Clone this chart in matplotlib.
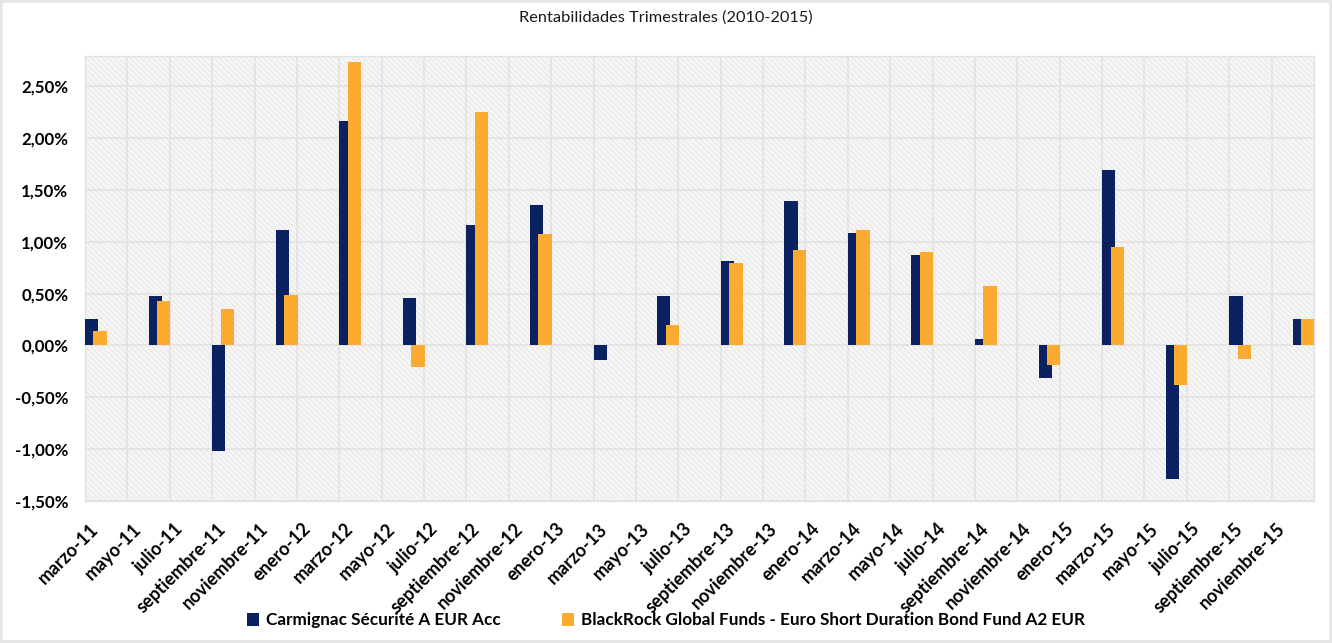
import matplotlib
matplotlib.use("Agg")
import matplotlib.pyplot as plt
from matplotlib.patches import Rectangle
from matplotlib.ticker import FuncFormatter, MultipleLocator
from matplotlib.transforms import ScaledTranslation
import numpy as np

plt.rcParams['font.family'] = ['Lato', 'DejaVu Sans']
plt.rcParams['hatch.linewidth'] = 0.5
plt.rcParams['hatch.color'] = '#e2e2e2'

title = "Rentabilidades Trimestrales (2010-2015)"
series_names = ["Carmignac Sécurité A EUR Acc",
                "BlackRock Global Funds - Euro Short Duration Bond Fund A2 EUR"]

# month offsets from March 2011 for each quarter-end bar group
quarter_months = [0, 3, 6, 9, 12, 15, 18, 21, 24, 27, 30, 33, 36, 39, 42, 45, 48, 51, 54, 57]

carmignac = [0.25, 0.48, -1.02, 1.11, 2.16, 0.46, 1.16, 1.35, -0.14, 0.48,
             0.81, 1.39, 1.08, 0.87, 0.06, -0.31, 1.69, -1.29, 0.48, 0.25]
blackrock = [0.14, 0.43, 0.35, 0.49, 2.73, -0.21, 2.25, 1.07, 0.00, 0.20,
             0.79, 0.92, 1.11, 0.90, 0.57, -0.19, 0.95, -0.38, -0.13, 0.25]

tick_months = list(range(0, 57, 2))
tick_labels = ["marzo-11", "mayo-11", "julio-11", "septiembre-11", "noviembre-11",
               "enero-12", "marzo-12", "mayo-12", "julio-12", "septiembre-12", "noviembre-12",
               "enero-13", "marzo-13", "mayo-13", "julio-13", "septiembre-13", "noviembre-13",
               "enero-14", "marzo-14", "mayo-14", "julio-14", "septiembre-14", "noviembre-14",
               "enero-15", "marzo-15", "mayo-15", "julio-15", "septiembre-15", "noviembre-15"]

dark = '#0c2160'
orange = '#fbab2f'

W, H = 1332, 643
DPI = 100
fig = plt.figure(figsize=(W / DPI, H / DPI), dpi=DPI)
fig.patch.set_facecolor('white')
ax = fig.add_axes([85 / W, 1 - 501 / H, (1314 - 85) / W, (501 - 56) / H])
ax.set_facecolor('#f5f5f5')

# hatched plot-area background
bg = Rectangle((0, 0), 1, 1, transform=ax.transAxes, facecolor='#f5f5f5',
               edgecolor='#e2e2e2', hatch='\\' * 6, linewidth=0, zorder=0)
ax.add_patch(bg)

x = np.array(quarter_months, dtype=float)
bw = 0.63
ax.bar(x, carmignac, width=bw, align='edge', color=dark, zorder=3, label=series_names[0])
ax.bar(x + 0.40, blackrock, width=bw, align='edge', color=orange, zorder=4, label=series_names[1])

ax.set_xlim(0, 58)
ax.set_ylim(-1.5, 2.79)
ax.yaxis.set_major_locator(MultipleLocator(0.5))
ax.yaxis.set_major_formatter(FuncFormatter(lambda v, p: f"{v:.2f}%".replace('.', ',').replace('-0,00', '0,00')))
ax.set_xticks(tick_months)
ax.set_xticklabels([])
offset = ScaledTranslation(11 / DPI, -25 / DPI, fig.dpi_scale_trans)
xtrans = ax.get_xaxis_transform() + offset
for m, lab in zip(tick_months, tick_labels):
    ax.text(m, 0, lab, transform=xtrans, rotation=45, ha='right', va='center',
            rotation_mode='anchor', fontweight='bold', fontsize=13, clip_on=False)
for lab in ax.get_yticklabels():
    lab.set_fontweight('bold')
    lab.set_fontsize(12.2)
ax.tick_params(axis='both', length=0)
ax.tick_params(axis='y', pad=12)

ax.grid(True, color='#e2e2e2', linewidth=1.2, zorder=1)
ax.set_axisbelow(True)
for s in ax.spines.values():
    s.set_color('#e2e2e2')
    s.set_linewidth(1.0)

fig.text(0.5, 1 - 18 / H, title, ha='center', va='center', fontsize=11.8, color='#1a1a1a')

leg = fig.legend(loc='center', bbox_to_anchor=(0.5, 1 - 620 / H), ncol=2, frameon=False,
                 prop={'weight': 'bold', 'size': 12.3}, handlelength=0.7, handleheight=0.8,
                 handletextpad=0.4, columnspacing=3.6)

# light gray frame around figure
frame = Rectangle((0, 0), 1, 1, transform=fig.transFigure, fill=False,
                  edgecolor='#e6e6e6', linewidth=4)
fig.patches.append(frame)

fig.savefig('out.png', dpi=DPI)
